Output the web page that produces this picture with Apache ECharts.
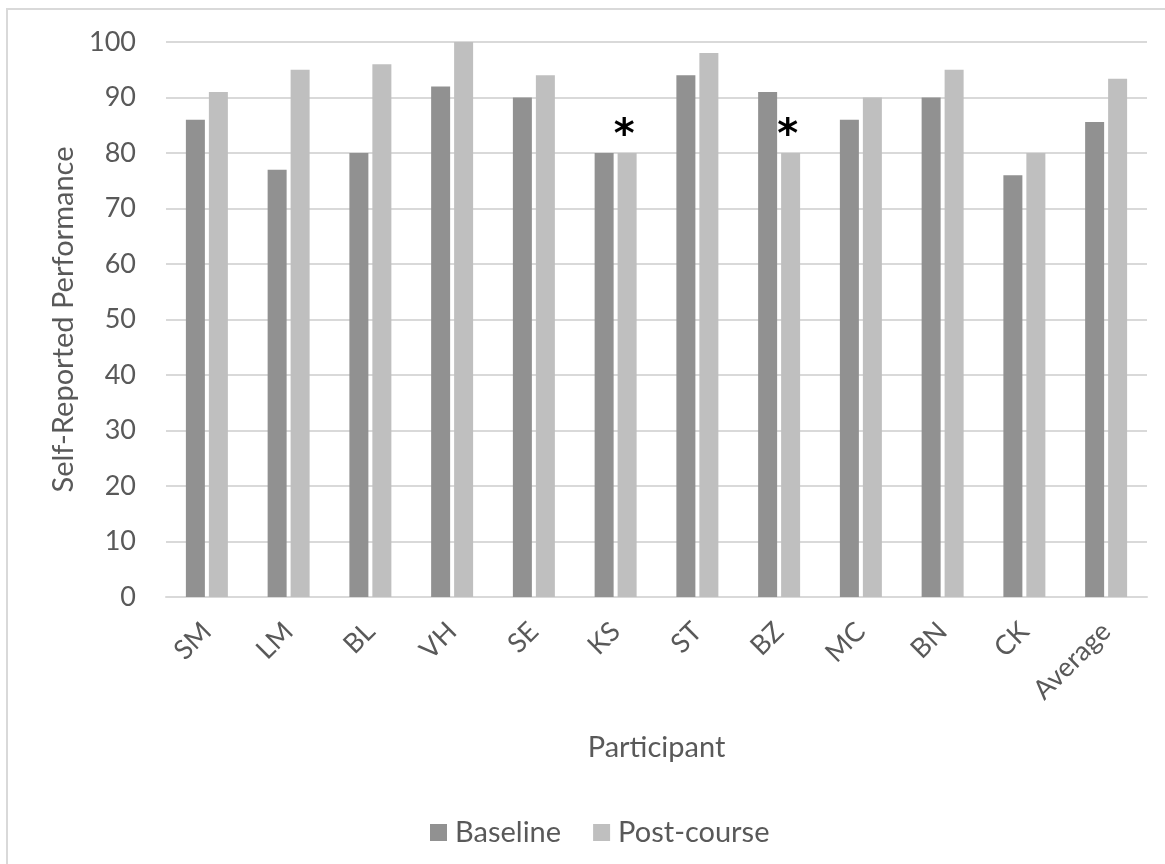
<!DOCTYPE html>
<html>
<head>
<meta charset="utf-8">
<script src="https://cdn.jsdelivr.net/npm/echarts@6/dist/echarts.min.js"></script>
<style>
  html, body { margin: 0; padding: 0; background: #fff; overflow: hidden; }
  #frame { position: absolute; left: 6px; top: 8px; width: 1200px; height: 900px;
           border-top: 2px solid #d9d9d9; border-left: 2px solid #d9d9d9; }
  #chart { position: absolute; left: 0; top: 0; width: 1165px; height: 864px; }
</style>
</head>
<body>
<div id="frame"></div>
<div id="chart"></div>
<script>
// Participants and self-reported performance scores
const participants = ['SM', 'LM', 'BL', 'VH', 'SE', 'KS', 'ST', 'BZ', 'MC', 'BN', 'CK', 'Average'];
const baseline   = [86, 77, 80, 92, 90, 80, 94, 91, 86, 90, 76, 85.6];
const postCourse = [91, 95, 96, 100, 94, 80, 98, 80, 90, 95, 80, 93.4];
// Participants whose post-course score is flagged with an asterisk
const flagged = ['KS', 'BZ'];
const yTicks = [0, 10, 20, 30, 40, 50, 60, 70, 80, 90, 100];

const FONT = 'Lato, "Open Sans", sans-serif';
const TEXT = '#595959';

const postData = postCourse.map((v, i) => flagged.includes(participants[i])
  ? { value: v, label: { show: true, formatter: '*', position: 'top', distance: -4, offset: [-3, 0],
      color: '#000', fontSize: 40, fontWeight: 'bold', fontFamily: 'DejaVu Sans' } }
  : v);

const chart = echarts.init(document.getElementById('chart'));
chart.setOption({
  animation: false,
  textStyle: { fontFamily: FONT },
  grid: { left: 166, right: 18, top: 42, bottom: 267 },
  legend: {
    data: ['Baseline', 'Post-course'],
    top: 813, left: 425,
    itemWidth: 17, itemHeight: 17, itemGap: 32,
    icon: 'rect',
    textStyle: { color: TEXT, fontSize: 29, fontFamily: FONT, padding: [0, 0, 0, 3] }
  },
  xAxis: {
    type: 'category',
    data: participants,
    name: 'Participant',
    nameLocation: 'middle',
    nameGap: 136,
    nameTextStyle: { color: TEXT, fontSize: 29, fontFamily: FONT },
    axisLine: { lineStyle: { color: '#d9d9d9', width: 2 } },
    axisTick: { show: false },
    axisLabel: { rotate: 45, color: TEXT, fontSize: 27, margin: 30, fontFamily: FONT, interval: 0 }
  },
  yAxis: {
    type: 'value',
    min: yTicks[0], max: yTicks[yTicks.length - 1], interval: 10,
    name: 'Self-Reported Performance',
    nameLocation: 'middle',
    nameGap: 85,
    nameTextStyle: { color: TEXT, fontSize: 29, fontFamily: FONT },
    axisLine: { show: false },
    axisTick: { show: false },
    axisLabel: { color: TEXT, fontSize: 27, margin: 30, fontFamily: FONT },
    splitLine: { lineStyle: { color: '#d9d9d9', width: 2 } }
  },
  series: [
    {
      name: 'Baseline', type: 'bar', data: baseline,
      barWidth: 19, barGap: '21%',
      itemStyle: { color: '#919191' }
    },
    {
      name: 'Post-course', type: 'bar', data: postData,
      barWidth: 19, barGap: '21%',
      itemStyle: { color: '#bfbfbf' }
    }
  ]
});
</script>
</body>
</html>
